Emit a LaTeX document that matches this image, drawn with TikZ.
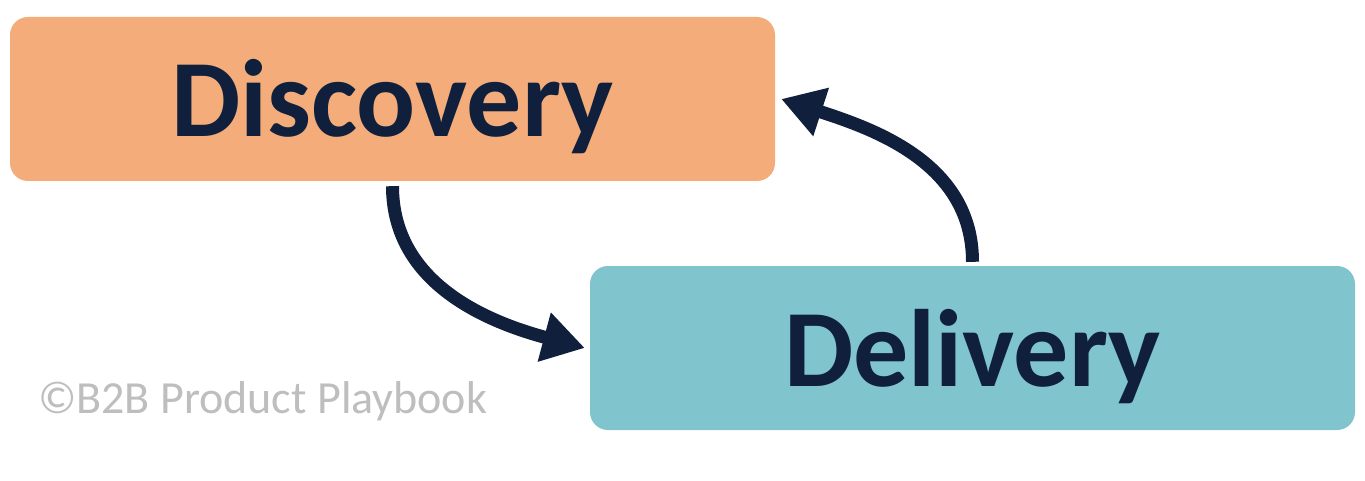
\documentclass[tikz,border=0pt]{standalone}
\usepackage{fontspec}
\setmainfont{Carlito}
\usetikzlibrary{arrows.meta}
\definecolor{discfill}{RGB}{244,173,122}
\definecolor{delifill}{RGB}{128,196,206}
\definecolor{navy}{RGB}{16,32,60}
\definecolor{copygray}{RGB}{190,190,190}
\tikzset{
  phasebox/.style={rounded corners=18pt, minimum width=765pt, minimum height=164pt, inner sep=0pt, draw=none, text=navy, text height=76pt, text depth=0pt, font=\bfseries\fontsize{110}{110}\selectfont},
  cyclearrow/.style={draw=navy, line width=13pt, -{Triangle[length=42pt,width=48pt]}}
}
\begin{document}
\begin{tikzpicture}[x=1pt,y=1pt]
\useasboundingbox (0,0) rectangle (1365,-481);
\fill[white] (0,0) rectangle (1365,-481);
\node[phasebox, fill=discfill] (disc) at (392.5,-99) {Discovery};
\node[phasebox, fill=delifill] (deli) at (972.5,-348) {Delivery};
\draw[cyclearrow] ([yshift=-5pt]disc.south) to[out=-90, in=165] ([xshift=-5pt]deli.west);
\draw[cyclearrow] ([yshift=4pt]deli.north) to[out=90, in=-18] ([xshift=6pt]disc.east);
\node[anchor=base west, inner sep=0pt, text=copygray, font=\fontsize{46}{46}\selectfont] (copy) at (38,-413) {©B2B Product Playbook};
\end{tikzpicture}
\end{document}
